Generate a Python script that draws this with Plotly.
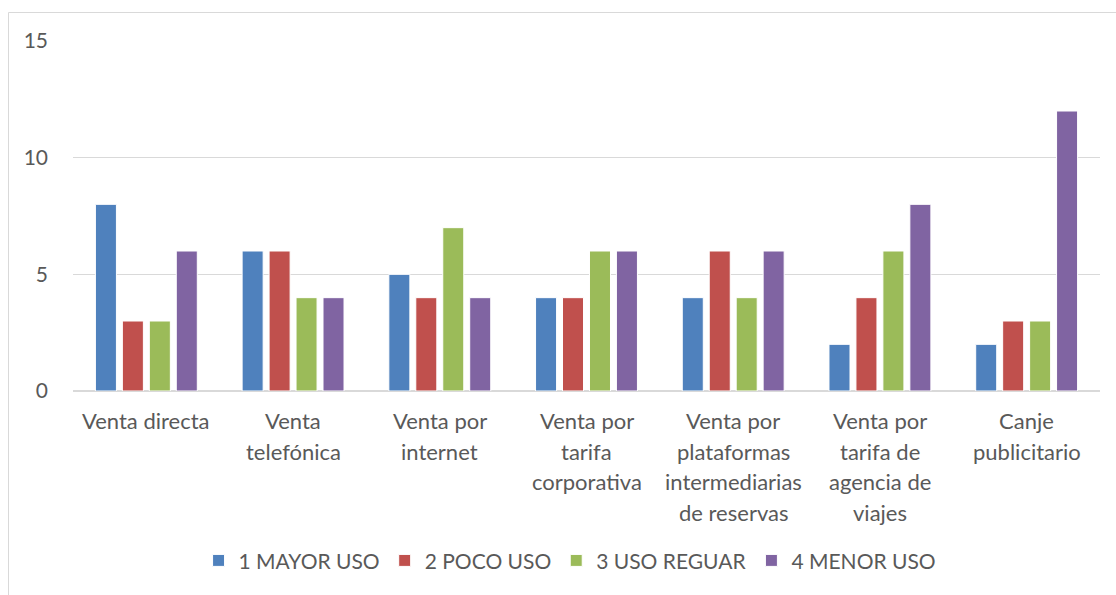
import plotly.graph_objects as go

categories = [
    "Venta directa",
    "Venta<br>telefónica",
    "Venta por<br>internet",
    "Venta por<br>tarifa<br>corporativa",
    "Venta por<br>plataformas<br>intermediarias<br>de reservas",
    "Venta por<br>tarifa de<br>agencia de<br>viajes",
    "Canje<br>publicitario",
]
series_names = ["1 MAYOR USO", "2 POCO USO", "3 USO REGUAR", "4 MENOR USO"]
mayor_uso = [8, 6, 5, 4, 4, 2, 2]
poco_uso = [3, 6, 4, 4, 6, 4, 3]
uso_regular = [3, 4, 7, 6, 4, 6, 3]
menor_uso = [6, 4, 4, 6, 6, 8, 12]
y_ticks = [0, 5, 10, 15]

colors = ["#4F81BD", "#C0504D", "#9BBB59", "#8064A2"]
values = [mayor_uso, poco_uso, uso_regular, menor_uso]

font_family = "Lato, 'Open Sans', sans-serif"
text_color = "#595959"
fs = 21

fig = go.Figure()
for name, vals, col in zip(series_names, values, colors):
    fig.add_trace(go.Bar(
        x=categories, y=vals, name=name,
        marker=dict(color=col, line=dict(color="white", width=1)),
    ))

# Category labels as per-line annotations (for Excel-like line spacing)
annotations = []
for cat in categories:
    for i, line in enumerate(cat.split("<br>")):
        annotations.append(dict(
            x=cat, y=0, xref="x", yref="y", text=line, showarrow=False,
            yanchor="top", xanchor="center", yshift=-14 - 30.5 * i,
            font=dict(family=font_family, size=22, color=text_color),
        ))

fig.update_layout(
    width=1116, height=595,
    margin=dict(l=73, r=16, t=41, b=204),
    paper_bgcolor="white", plot_bgcolor="white",
    barmode="group", bargap=0.265, bargroupgap=0.22,
    font=dict(family=font_family, size=fs, color=text_color),
    showlegend=True,
    legend=dict(
        orientation="h", x=0.484, xanchor="center", y=-0.485, yanchor="middle",
        font=dict(family=font_family, size=fs, color=text_color),
        itemwidth=30, traceorder="normal",
    ),
    annotations=annotations,
    shapes=[dict(
        type="rect", xref="paper", yref="paper",
        x0=-0.0628, x1=1.03, y0=-0.62, y1=1.0814,
        line=dict(color="#D9D9D9", width=1), fillcolor="rgba(0,0,0,0)",
        layer="below",
    )],
)
fig.update_xaxes(showticklabels=False, showgrid=False, zeroline=False,
                 showline=False, ticks="")
fig.update_yaxes(range=[0, 15], tickvals=y_ticks, showgrid=True,
                 gridcolor="#D9D9D9", gridwidth=1, zeroline=True,
                 zerolinecolor="#D9D9D9", zerolinewidth=1.5, showline=False,
                 ticks="", ticklabelstandoff=24,
                 tickfont=dict(family=font_family, size=fs, color=text_color))

fig.write_html("out.html")
